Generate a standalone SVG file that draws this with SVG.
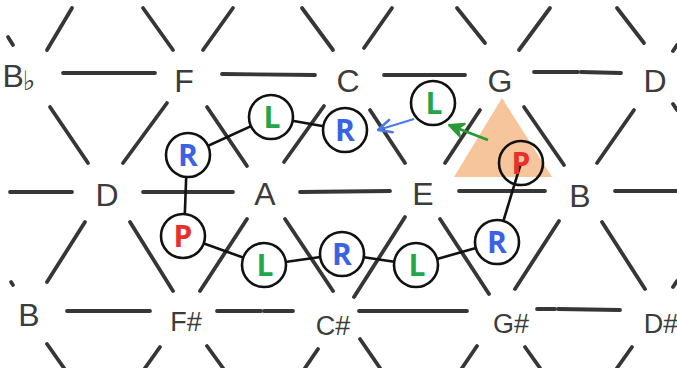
<svg xmlns="http://www.w3.org/2000/svg" width="677" height="368" viewBox="0 0 677 368">
  <defs>
    <style>
      .grid line { stroke: #363636; stroke-width: 3.8; stroke-linecap: round; }
      .note { font-family: "Liberation Sans", "DejaVu Sans", sans-serif; fill: #3c3c3c; text-anchor: middle; }
      .big { font-size: 32px; }
      .small { font-size: 27px; }
      .link { stroke: #111; stroke-width: 2.6; fill: none; }
      .op circle { fill: #fff; stroke: #111; stroke-width: 2.6; }
      .op text { font-family: "Open Sans", "Liberation Sans", sans-serif; font-weight: 700; font-size: 30px; text-anchor: middle; }
      .r { fill: #3b62e4; }
      .l { fill: #22a64a; }
      .p { fill: #e8302a; }
    </style>
    <marker id="headBlue" viewBox="0 0 12 12" refX="11" refY="6" markerWidth="17" markerHeight="17" markerUnits="userSpaceOnUse" orient="auto">
      <path d="M1.5,1.5 L11,6 L1.5,10.5" fill="none" stroke="#4a7be2" stroke-width="1.8" stroke-linejoin="round" stroke-linecap="round"/>
    </marker>
    <marker id="headGreen" viewBox="0 0 12 12" refX="11" refY="6" markerWidth="18" markerHeight="18" markerUnits="userSpaceOnUse" orient="auto">
      <path d="M1.5,1.5 L11,6 L1.5,10.5 L4.5,6 Z" fill="#2a9a35" stroke="#2a9a35" stroke-width="1.4" stroke-linejoin="round"/>
    </marker>
  </defs>

  <rect width="677" height="368" fill="#ffffff"/>

  <!-- lattice lines -->
  <g id="grid" class="grid">
    <!-- top edge diagonals -->
    <line x1="8" y1="37" x2="13" y2="45"/>
    <line x1="47" y1="50" x2="72" y2="8"/>
    <line x1="143" y1="8" x2="173" y2="50"/>
    <line x1="203" y1="50" x2="233" y2="8"/>
    <line x1="302" y1="8" x2="333" y2="50"/>
    <line x1="364" y1="48" x2="392" y2="8"/>
    <line x1="457" y1="8" x2="485" y2="43"/>
    <line x1="519" y1="50" x2="550" y2="8"/>
    <line x1="617" y1="8" x2="644" y2="43"/>
    <line x1="673" y1="51" x2="677" y2="45"/>
    <!-- row 1 horizontals -->
    <line x1="63" y1="73" x2="155" y2="73"/>
    <line x1="222" y1="74" x2="315" y2="75"/>
    <line x1="384" y1="75" x2="465" y2="75"/>
    <line x1="534" y1="72" x2="578" y2="72"/>
    <line x1="581" y1="72" x2="621" y2="73"/>
    <!-- row 1 to row 2 diagonals -->
    <line x1="50" y1="107" x2="88" y2="163"/>
    <line x1="123" y1="163" x2="167" y2="103"/>
    <line x1="207" y1="107" x2="247" y2="166"/>
    <line x1="284" y1="162" x2="324" y2="106"/>
    <line x1="370" y1="110" x2="405" y2="163"/>
    <line x1="445" y1="163" x2="480" y2="110"/>
    <line x1="524" y1="107" x2="564" y2="165"/>
    <line x1="597" y1="163" x2="634" y2="110"/>
    <line x1="673" y1="104" x2="677" y2="110"/>
    <!-- row 2 horizontals -->
    <line x1="10" y1="192" x2="72" y2="192"/>
    <line x1="143" y1="192" x2="233" y2="192"/>
    <line x1="300" y1="192" x2="390" y2="191"/>
    <line x1="459" y1="191" x2="545" y2="191"/>
    <line x1="615" y1="191" x2="677" y2="191"/>
    <!-- row 2 to row 3 diagonals -->
    <line x1="11" y1="282" x2="13" y2="285"/>
    <line x1="47" y1="282" x2="85" y2="222"/>
    <line x1="130" y1="222" x2="173" y2="291"/>
    <line x1="200" y1="291" x2="247" y2="219"/>
    <line x1="285" y1="219" x2="333" y2="291"/>
    <line x1="354" y1="297" x2="405" y2="217"/>
    <line x1="440" y1="219" x2="489" y2="294"/>
    <line x1="515" y1="289" x2="559" y2="221"/>
    <line x1="602" y1="222" x2="645" y2="289"/>
    <line x1="673" y1="287" x2="677" y2="281"/>
    <!-- row 3 horizontals -->
    <line x1="67" y1="311" x2="150" y2="311"/>
    <line x1="217" y1="311" x2="261" y2="311"/>
    <line x1="264" y1="311" x2="293" y2="311"/>
    <line x1="359" y1="311" x2="467" y2="311"/>
    <line x1="537" y1="309" x2="555" y2="309"/>
    <line x1="558" y1="309" x2="620" y2="310"/>
    <!-- bottom edge diagonals -->
    <line x1="47" y1="344" x2="64" y2="368"/>
    <line x1="160" y1="347" x2="145" y2="368"/>
    <line x1="207" y1="346" x2="223" y2="368"/>
    <line x1="318" y1="349" x2="305" y2="368"/>
    <line x1="360" y1="339" x2="380" y2="368"/>
    <line x1="477" y1="346" x2="462" y2="368"/>
    <line x1="525" y1="347" x2="540" y2="368"/>
    <line x1="632" y1="347" x2="617" y2="368"/>
  </g>

  <!-- highlighted chord triangle -->
  <polygon id="chord" points="502,98 454,177 552,177" fill="#f6c59b"/>

  <!-- note names -->
  <g id="note-Bb"><text class="note big" x="19" y="87" text-anchor="start">B<tspan font-size="27" dx="-1" dy="3">♭</tspan></text></g>
  <g id="note-F"><text class="note big" x="184" y="92">F</text></g>
  <g id="note-C"><text class="note big" x="348" y="92">C</text></g>
  <g id="note-G"><text class="note big" x="500" y="92">G</text></g>
  <g id="note-D1"><text class="note big" x="655" y="92">D</text></g>
  <g id="note-D2"><text class="note big" x="107" y="206">D</text></g>
  <g id="note-A"><text class="note big" x="265" y="205">A</text></g>
  <g id="note-E"><text class="note big" x="423" y="205">E</text></g>
  <g id="note-B1"><text class="note big" x="580" y="207">B</text></g>
  <g id="note-B2"><text class="note big" x="29" y="326">B</text></g>
  <g id="note-Fs"><text class="note small" x="186" y="331">F#</text></g>
  <g id="note-Cs"><text class="note small" x="333" y="335">C#</text></g>
  <g id="note-Gs"><text class="note small" x="511" y="333">G#</text></g>
  <g id="note-Ds"><text class="note small" x="661" y="333">D#</text></g>

  <!-- transformation path and arrows -->
  <g id="connectors">
    <line class="link" x1="188" y1="155" x2="271" y2="117"/>
    <line class="link" x1="271" y1="117" x2="345" y2="130"/>
    <line class="link" x1="187" y1="155" x2="184" y2="236"/>
    <line class="link" x1="183" y1="236" x2="264" y2="265"/>
    <line class="link" x1="264" y1="265" x2="342" y2="254"/>
    <line class="link" x1="342" y1="254" x2="416" y2="265"/>
    <line class="link" x1="416" y1="265" x2="497" y2="242"/>
    <line class="link" x1="497" y1="242" x2="521" y2="163"/>
    <line x1="414" y1="119" x2="378" y2="130" stroke="#4a7be2" stroke-width="2.2" marker-end="url(#headBlue)"/>
    <line x1="488" y1="140" x2="449" y2="125" stroke="#2a9a35" stroke-width="2.8" marker-end="url(#headGreen)"/>
  </g>

  <!-- operation nodes -->
  <g id="op-R1" class="op"><circle cx="188" cy="155" r="22"/><text class="r" x="188" y="166">R</text></g>
  <g id="op-L1" class="op"><circle cx="271" cy="117" r="22"/><text class="l" x="272" y="128">L</text></g>
  <g id="op-R2" class="op"><circle cx="345" cy="130" r="22"/><text class="r" x="345" y="141">R</text></g>
  <g id="op-L2" class="op"><circle cx="433" cy="103" r="22"/><text class="l" x="434" y="114">L</text></g>
  <g id="op-P1" class="op"><circle cx="521" cy="163" r="22" style="fill:none"/><text class="p" x="521" y="174">P</text></g>
  <g id="op-R3" class="op"><circle cx="497" cy="242" r="22"/><text class="r" x="497" y="253">R</text></g>
  <g id="op-L3" class="op"><circle cx="416" cy="265" r="22"/><text class="l" x="417" y="276">L</text></g>
  <g id="op-R4" class="op"><circle cx="342" cy="254" r="22"/><text class="r" x="342" y="265">R</text></g>
  <g id="op-L4" class="op"><circle cx="264" cy="265" r="22"/><text class="l" x="265" y="276">L</text></g>
  <g id="op-P2" class="op"><circle cx="183" cy="236" r="22"/><text class="p" x="183" y="247">P</text></g>
</svg>
